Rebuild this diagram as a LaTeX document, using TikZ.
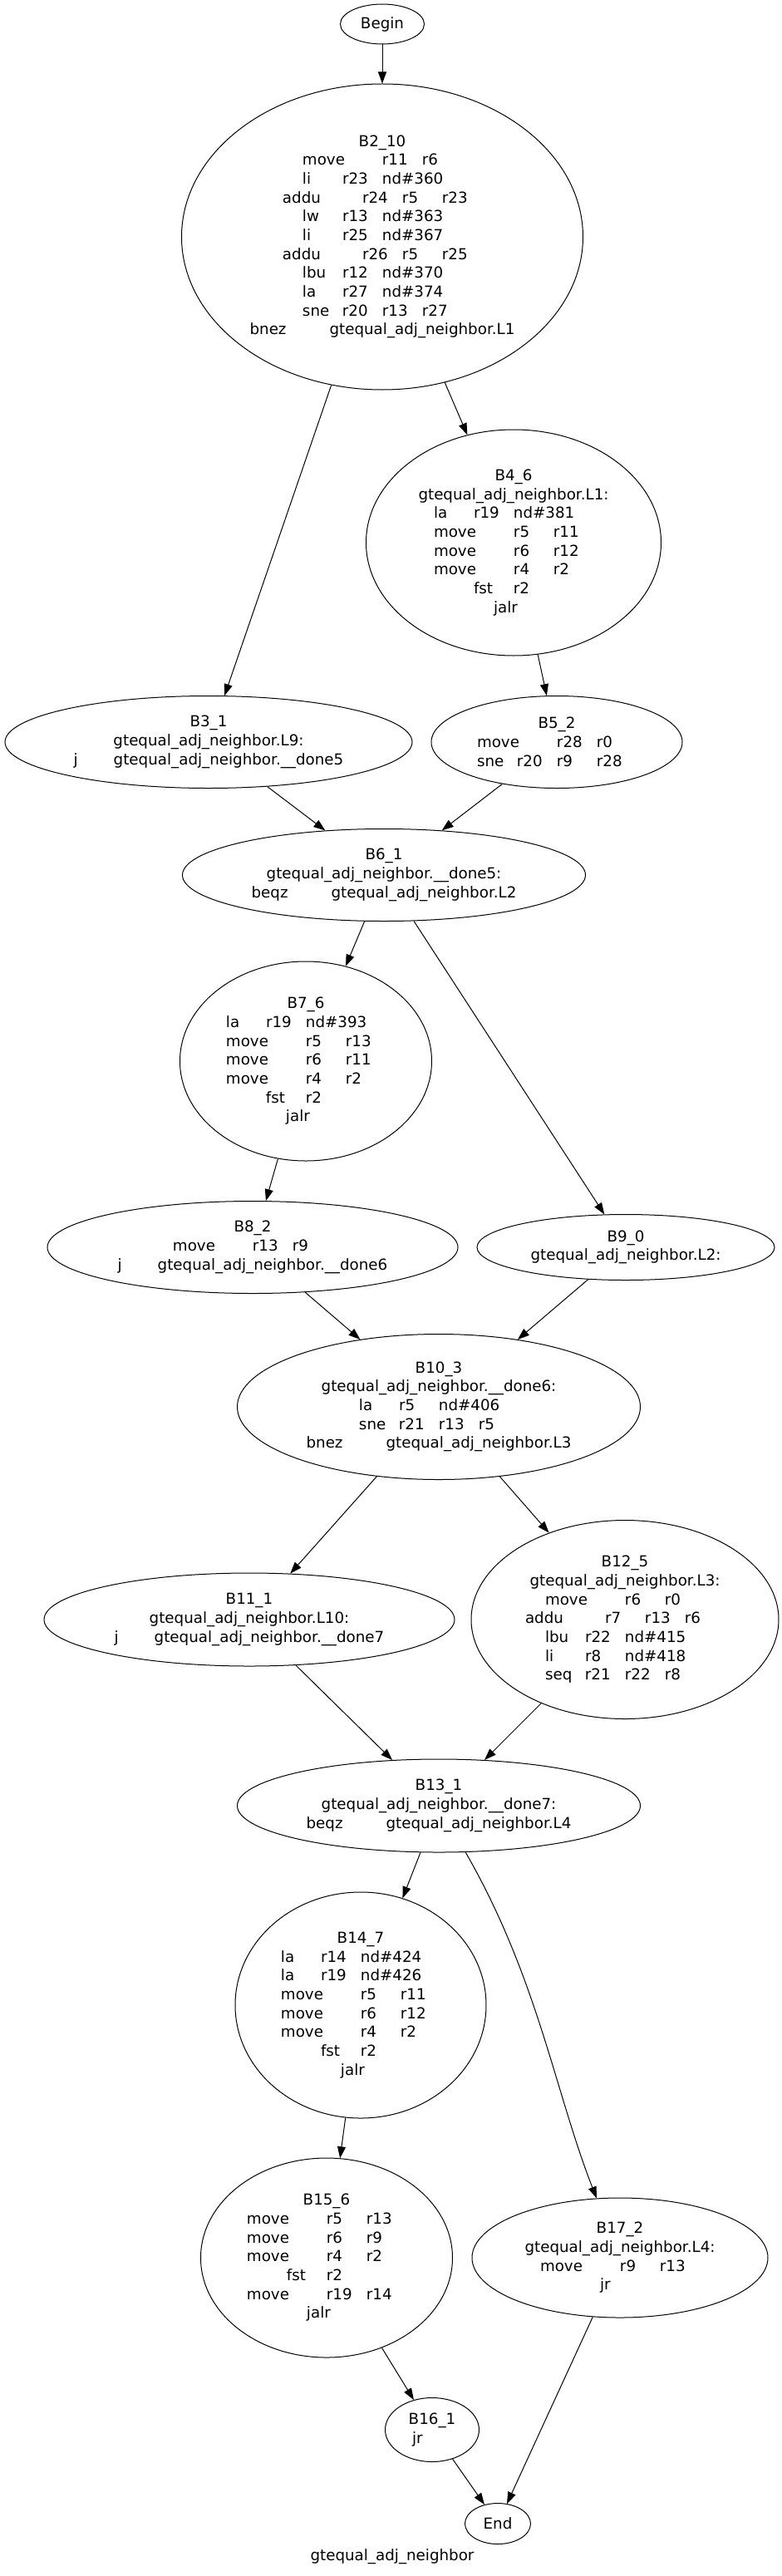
\documentclass[tikz,border=0pt]{standalone}
\usepackage{fontspec}
\setmainfont{DejaVu Sans}
\usepackage{tikz}
\usetikzlibrary{positioning,shapes.geometric,arrows.meta}
\newlength{\tabw}
\setlength{\tabw}{36pt}
\newcommand{\tb}[2]{\makebox[#1\tabw][l]{#2}}
\newcommand{\fn}{gtequal\_adj\_neighbor}

\begin{document}
\begin{tikzpicture}[%
  on grid,%
  font=\fontsize{13.7}{17}\selectfont,%
  blk/.style 2 args={ellipse,draw,line width=0.75pt,inner sep=0pt,align=center,minimum width=#1,minimum height=#2},%
  arr/.style={-{Triangle[length=10.5pt,width=7.5pt]},line width=0.75pt}%
  ]
  \useasboundingbox (-345pt,21.75pt) rectangle (360.75pt,-2303.25pt);
  \node (begin) [blk={75.75pt}{36pt}] at (0,0) {Begin};
%
  \node (b2) [blk={362.25pt}{276pt}, below=192pt of begin]{B2\_10\\
    \tb{2}{move}\tb{1}{r11}\tb{1}{r6}\\
    \tb{1}{li}\tb{1}{r23}\tb{2}{nd\#360}\\
    \tb{2}{addu}\tb{1}{r24}\tb{1}{r5}\tb{1}{r23}\\
    \tb{1}{lw}\tb{1}{r13}\tb{2}{nd\#363}\\
    \tb{1}{li}\tb{1}{r25}\tb{2}{nd\#367}\\
    \tb{2}{addu}\tb{1}{r26}\tb{1}{r5}\tb{1}{r25}\\
    \tb{1}{lbu}\tb{1}{r12}\tb{2}{nd\#370}\\
    \tb{1}{la}\tb{1}{r27}\tb{2}{nd\#374}\\
    \tb{1}{sne}\tb{1}{r20}\tb{1}{r13}\tb{1}{r27}\\
    \tb{2}{bnez}\fn.L1};
%
  \node (b4) [blk={266.25pt}{204pt}, below right=276pt and 118.5pt of b2]{B4\_6\\
    \fn.L1:\\
    \tb{1}{la}\tb{1}{r19}\tb{2}{nd\#381}\\
    \tb{2}{move}\tb{1}{r5}\tb{1}{r11}\\
    \tb{2}{move}\tb{1}{r6}\tb{1}{r12}\\
    \tb{2}{move}\tb{1}{r4}\tb{1}{r2}\\
    \tb{1}{fst}\tb{1}{r2}\\
    \tb{1}{jalr}};
  \node (b3) [blk={367.5pt}{83.25pt}, below left=456pt and 156.75pt of b2]{B3\_1\\
    \fn.L9:\\
    \tb{1}{j}\fn.\_\_done5};
  \node (b5) [blk={226.5pt}{83.25pt}, below right=180pt and 39pt of b4]{B5\_2\\
    \tb{2}{move}\tb{1}{r28}\tb{1}{r0}\\
    \tb{1}{sne}\tb{1}{r20}\tb{1}{r9}\tb{1}{r28}};
%
  \node (b6) [blk={363.75pt}{83.25pt}, below right=120pt and 158.25pt of b3]{B6\_1\\
    \fn.\_\_done5:\\
    \tb{2}{beqz}\fn.L2};
  \node (b7) [blk={227.25pt}{180pt}, below left=168pt and 70.5pt of b6]{B7\_6\\
    \tb{1}{la}\tb{1}{r19}\tb{2}{nd\#393}\\
    \tb{2}{move}\tb{1}{r5}\tb{1}{r13}\\
    \tb{2}{move}\tb{1}{r6}\tb{1}{r11}\\
    \tb{2}{move}\tb{1}{r4}\tb{1}{r2}\\
    \tb{1}{fst}\tb{1}{r2}\\
    \tb{1}{jalr}};
  \node (b8) [blk={370.5pt}{83.25pt}, below left=168pt and 48pt of b7]{B8\_2\\
    \tb{2}{move}\tb{1}{r13}\tb{1}{r9}\\
    \tb{1}{j}\fn.\_\_done6};
  \node (b9) [blk={268.5pt}{59.25pt}, below right=336pt and 218.25pt of b6]{B9\_0\\
    \fn.L2:};
%
  \node (b10) [blk={363.75pt}{131.25pt}, below right=144pt and 168pt of b8]{B10\_3\\
    \fn.\_\_done6:\\
    \tb{1}{la}\tb{1}{r5}\tb{2}{nd\#406}\\
    \tb{1}{sne}\tb{1}{r21}\tb{1}{r13}\tb{1}{r5}\\
    \tb{2}{bnez}\fn.L3};
  \node (b11) [blk={370.5pt}{84pt}, below left=192pt and 171pt of b10]{B11\_1\\
    \fn.L10:\\
    \tb{1}{j}\fn.\_\_done7};
  \node (b12) [blk={277.5pt}{179.25pt}, below right=192pt and 168pt of b10]{B12\_5\\
    \fn.L3:\\
    \tb{2}{move}\tb{1}{r6}\tb{1}{r0}\\
    \tb{2}{addu}\tb{1}{r7}\tb{1}{r13}\tb{1}{r6}\\
    \tb{1}{lbu}\tb{1}{r22}\tb{2}{nd\#415}\\
    \tb{1}{li}\tb{1}{r8}\tb{2}{nd\#418}\\
    \tb{1}{seq}\tb{1}{r21}\tb{1}{r22}\tb{1}{r8}};
%
  \node (b13) [blk={363.75pt}{84pt}, below=360pt of b10]{B13\_1\\
    \fn.\_\_done7:\\
    \tb{2}{beqz}\fn.L4};
  \node (b14) [blk={226.5pt}{204pt}, below left=180pt and 70.5pt of b13]{B14\_7\\
    \tb{1}{la}\tb{1}{r14}\tb{2}{nd\#424}\\
    \tb{1}{la}\tb{1}{r19}\tb{2}{nd\#426}\\
    \tb{2}{move}\tb{1}{r5}\tb{1}{r11}\\
    \tb{2}{move}\tb{1}{r6}\tb{1}{r12}\\
    \tb{2}{move}\tb{1}{r4}\tb{1}{r2}\\
    \tb{1}{fst}\tb{1}{r2}\\
    \tb{1}{jalr}};
  \node (b15) [blk={227.25pt}{180pt}, below left=228pt and 30.75pt of b14]{B15\_6\\
    \tb{2}{move}\tb{1}{r5}\tb{1}{r13}\\
    \tb{2}{move}\tb{1}{r6}\tb{1}{r9}\\
    \tb{2}{move}\tb{1}{r4}\tb{1}{r2}\\
    \tb{1}{fst}\tb{1}{r2}\\
    \tb{2}{move}\tb{1}{r19}\tb{1}{r14}\\
    \tb{1}{jalr}};
  \node (b17) [blk={267pt}{108pt}, below right=408pt and 163.5pt of b13]{B17\_2\\
    \fn.L4:\\
    \tb{2}{move}\tb{1}{r9}\tb{1}{r13}\\
    \tb{1}{jr}};
  \node (b16) [blk={84.75pt}{57.75pt}, below right=155.25pt and 95.25pt of b15]{B16\_1\\
    \tb{1}{jr}};
%
  \node (end) [blk={59.25pt}{36.75pt}, below right=84.75pt and 59.25pt of b16]{End};
  \node (title) [below left=30pt and 95.25pt of end]{\fn};
%
  \draw[arr] (begin) -- (b2);
  \draw[arr] (b2) -- (b3);
  \draw[arr] (b2) -- (b4);
  \draw[arr] (b4) -- (b5);
%
  \draw[arr] (b3) -- (b6);
  \draw[arr] (b5) -- (b6);
  \draw[arr] (b6) -- (b7);
  \draw[arr] (b6) -- (b9);
  \draw[arr] (b7) -- (b8);
%
  \draw[arr] (b8) -- (b10);
  \draw[arr] (b9) -- (b10);
  \draw[arr] (b10) -- (b11);
  \draw[arr] (b10) -- (b12);
%
  \draw[arr] (b11) -- (b13);
  \draw[arr] (b12) -- (b13);
  \draw[arr] (b13) -- (b14);
  \draw[arr] (b13) .. controls +(89.25pt,-155.25pt) and +(-58.5pt,149.25pt) .. (b17);
  \draw[arr] (b14) -- (b15);
  \draw[arr] (b15) -- (b16);
%
  \draw[arr] (b16) -- (end);
  \draw[arr] (b17) -- (end);
%
\end{tikzpicture}
\end{document}
